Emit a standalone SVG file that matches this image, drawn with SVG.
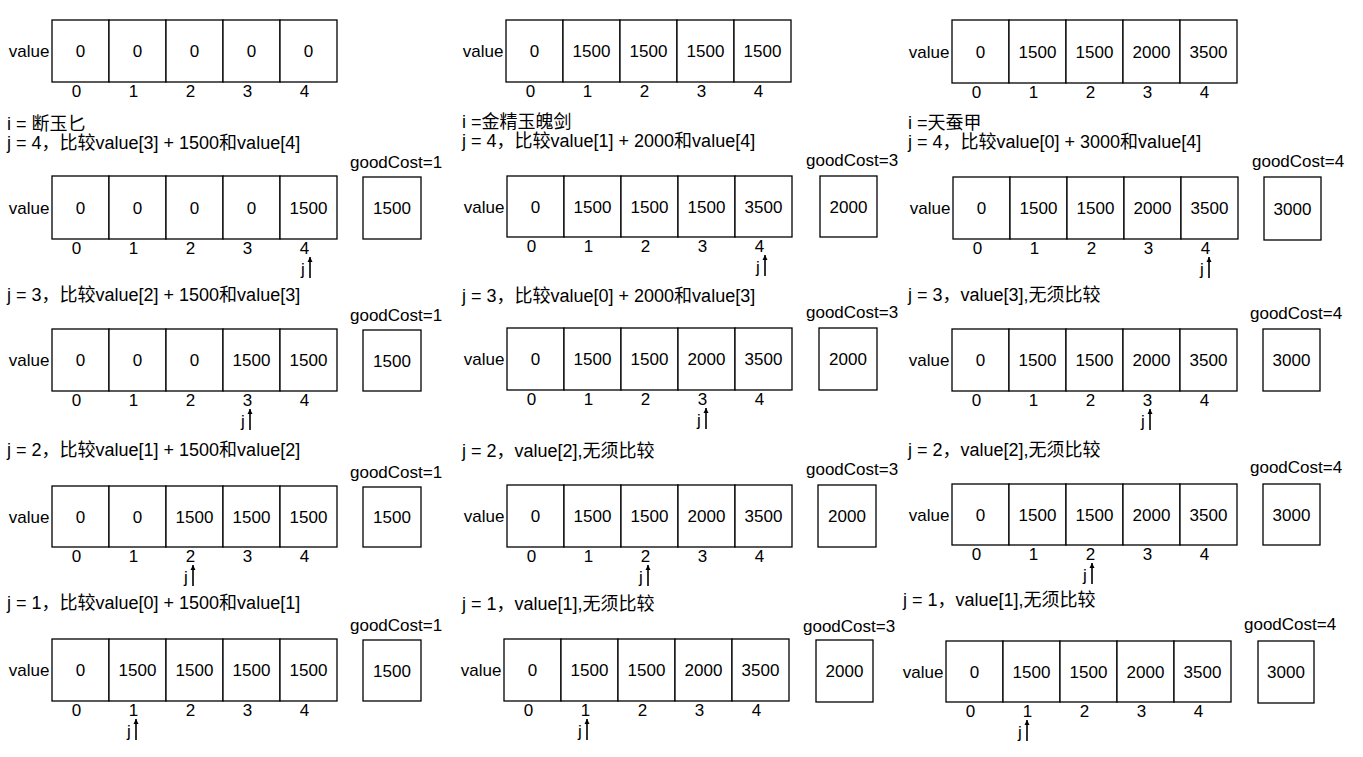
<svg xmlns="http://www.w3.org/2000/svg" width="1363" height="757" viewBox="0 0 1363 757">
<style>
.c{fill:#fff;stroke:#000;stroke-width:1.3}
.t{font-family:"Liberation Sans","Noto Sans CJK SC",sans-serif;font-size:17px;fill:#000}
.m{text-anchor:middle}
.e{text-anchor:end}
.k{font-size:18px}
.a{stroke:#000;stroke-width:1.6;fill:none}
</style>
<defs>
<marker id="ah" viewBox="0 0 10 10" refX="10" refY="5" markerUnits="userSpaceOnUse" markerWidth="5" markerHeight="7" orient="auto"><path d="M0,0 L10,5 L0,10 z" fill="#000"/></marker>
</defs>
<rect width="1363" height="757" fill="#fff"/>

<!-- Column 1 -->
<g id="c1r0">
<text class="t e" x="49.5" y="57">value</text>
<rect class="c" x="52" y="20" width="57" height="62"/><rect class="c" x="109" y="20" width="57" height="62"/><rect class="c" x="166" y="20" width="57" height="62"/><rect class="c" x="223" y="20" width="57" height="62"/><rect class="c" x="280" y="20" width="57" height="62"/>
<text class="t m" x="80.5" y="57">0</text><text class="t m" x="137.5" y="57">0</text><text class="t m" x="194.5" y="57">0</text><text class="t m" x="251.5" y="57">0</text><text class="t m" x="308.5" y="57">0</text>
<text class="t m" x="76.5" y="97">0</text><text class="t m" x="133.5" y="97">1</text><text class="t m" x="190.5" y="97">2</text><text class="t m" x="247.5" y="97">3</text><text class="t m" x="304.5" y="97">4</text>
</g>
<g id="c1r1">
<text class="t k" x="7" y="130">i = 断玉匕</text>
<text class="t k" x="7" y="149">j = 4，比较value[3] + 1500和value[4]</text>
<text class="t" x="350" y="168">goodCost=1</text>
<text class="t e" x="49.5" y="213.5">value</text>
<rect class="c" x="52" y="176" width="57" height="63"/><rect class="c" x="109" y="176" width="57" height="63"/><rect class="c" x="166" y="176" width="57" height="63"/><rect class="c" x="223" y="176" width="57" height="63"/><rect class="c" x="280" y="176" width="57" height="63"/>
<text class="t m" x="80.5" y="213.5">0</text><text class="t m" x="137.5" y="213.5">0</text><text class="t m" x="194.5" y="213.5">0</text><text class="t m" x="251.5" y="213.5">0</text><text class="t m" x="308.5" y="213.5">1500</text>
<text class="t m" x="76.5" y="254">0</text><text class="t m" x="133.5" y="254">1</text><text class="t m" x="190.5" y="254">2</text><text class="t m" x="247.5" y="254">3</text><text class="t m" x="304.5" y="254">4</text>
<rect class="c" x="363" y="177" width="58" height="62"/><text class="t m" x="392" y="214">1500</text>
</g>
<g id="c1r2">
<text class="t k" x="7" y="301">j = 3，比较value[2] + 1500和value[3]</text>
<text class="t" x="350" y="321">goodCost=1</text>
<text class="t e" x="49.5" y="366">value</text>
<rect class="c" x="52" y="329" width="57" height="62"/><rect class="c" x="109" y="329" width="57" height="62"/><rect class="c" x="166" y="329" width="57" height="62"/><rect class="c" x="223" y="329" width="57" height="62"/><rect class="c" x="280" y="329" width="57" height="62"/>
<text class="t m" x="80.5" y="366">0</text><text class="t m" x="137.5" y="366">0</text><text class="t m" x="194.5" y="366">0</text><text class="t m" x="251.5" y="366">1500</text><text class="t m" x="308.5" y="366">1500</text>
<text class="t m" x="76.5" y="406">0</text><text class="t m" x="133.5" y="406">1</text><text class="t m" x="190.5" y="406">2</text><text class="t m" x="247.5" y="406">3</text><text class="t m" x="304.5" y="406">4</text>
<rect class="c" x="363" y="330" width="58" height="61"/><text class="t m" x="392" y="366.5">1500</text>
</g>
<g id="c1r3">
<text class="t k" x="7" y="456">j = 2，比较value[1] + 1500和value[2]</text>
<text class="t" x="350" y="478">goodCost=1</text>
<text class="t e" x="49.5" y="522.5">value</text>
<rect class="c" x="52" y="486" width="57" height="61"/><rect class="c" x="109" y="486" width="57" height="61"/><rect class="c" x="166" y="486" width="57" height="61"/><rect class="c" x="223" y="486" width="57" height="61"/><rect class="c" x="280" y="486" width="57" height="61"/>
<text class="t m" x="80.5" y="522.5">0</text><text class="t m" x="137.5" y="522.5">0</text><text class="t m" x="194.5" y="522.5">1500</text><text class="t m" x="251.5" y="522.5">1500</text><text class="t m" x="308.5" y="522.5">1500</text>
<text class="t m" x="76.5" y="562">0</text><text class="t m" x="133.5" y="562">1</text><text class="t m" x="190.5" y="562">2</text><text class="t m" x="247.5" y="562">3</text><text class="t m" x="304.5" y="562">4</text>
<rect class="c" x="363" y="487" width="58" height="60"/><text class="t m" x="392" y="523">1500</text>
</g>
<g id="c1r4">
<text class="t k" x="7" y="609">j = 1，比较value[0] + 1500和value[1]</text>
<text class="t" x="350" y="631">goodCost=1</text>
<text class="t e" x="49.5" y="676">value</text>
<rect class="c" x="52" y="639" width="57" height="62"/><rect class="c" x="109" y="639" width="57" height="62"/><rect class="c" x="166" y="639" width="57" height="62"/><rect class="c" x="223" y="639" width="57" height="62"/><rect class="c" x="280" y="639" width="57" height="62"/>
<text class="t m" x="80.5" y="676">0</text><text class="t m" x="137.5" y="676">1500</text><text class="t m" x="194.5" y="676">1500</text><text class="t m" x="251.5" y="676">1500</text><text class="t m" x="308.5" y="676">1500</text>
<text class="t m" x="76.5" y="716">0</text><text class="t m" x="133.5" y="716">1</text><text class="t m" x="190.5" y="716">2</text><text class="t m" x="247.5" y="716">3</text><text class="t m" x="304.5" y="716">4</text>
<rect class="c" x="363" y="640" width="58" height="61"/><text class="t m" x="392" y="676.5">1500</text>
</g>

<!-- Column 2 -->
<g id="c2r0">
<text class="t e" x="503.5" y="57">value</text>
<rect class="c" x="506" y="20" width="57" height="62"/><rect class="c" x="563" y="20" width="57" height="62"/><rect class="c" x="620" y="20" width="57" height="62"/><rect class="c" x="677" y="20" width="57" height="62"/><rect class="c" x="734" y="20" width="57" height="62"/>
<text class="t m" x="534.5" y="57">0</text><text class="t m" x="591.5" y="57">1500</text><text class="t m" x="648.5" y="57">1500</text><text class="t m" x="705.5" y="57">1500</text><text class="t m" x="762.5" y="57">1500</text>
<text class="t m" x="530.5" y="97">0</text><text class="t m" x="587.5" y="97">1</text><text class="t m" x="644.5" y="97">2</text><text class="t m" x="701.5" y="97">3</text><text class="t m" x="758.5" y="97">4</text>
</g>
<g id="c2r1">
<text class="t k" x="462" y="128">i =金精玉魄剑</text>
<text class="t k" x="462" y="147">j = 4，比较value[1] + 2000和value[4]</text>
<text class="t" x="806" y="166">goodCost=3</text>
<text class="t e" x="504.5" y="212.5">value</text>
<rect class="c" x="507" y="176" width="57" height="61"/><rect class="c" x="564" y="176" width="57" height="61"/><rect class="c" x="621" y="176" width="57" height="61"/><rect class="c" x="678" y="176" width="57" height="61"/><rect class="c" x="735" y="176" width="57" height="61"/>
<text class="t m" x="535.5" y="212.5">0</text><text class="t m" x="592.5" y="212.5">1500</text><text class="t m" x="649.5" y="212.5">1500</text><text class="t m" x="706.5" y="212.5">1500</text><text class="t m" x="763.5" y="212.5">3500</text>
<text class="t m" x="531.5" y="252">0</text><text class="t m" x="588.5" y="252">1</text><text class="t m" x="645.5" y="252">2</text><text class="t m" x="702.5" y="252">3</text><text class="t m" x="759.5" y="252">4</text>
<rect class="c" x="820" y="176" width="57" height="61"/><text class="t m" x="848.5" y="212.5">2000</text>
</g>
<g id="c2r2">
<text class="t k" x="462" y="302">j = 3，比较value[0] + 2000和value[3]</text>
<text class="t" x="806" y="318">goodCost=3</text>
<text class="t e" x="504.5" y="365">value</text>
<rect class="c" x="507" y="328" width="57" height="62"/><rect class="c" x="564" y="328" width="57" height="62"/><rect class="c" x="621" y="328" width="57" height="62"/><rect class="c" x="678" y="328" width="57" height="62"/><rect class="c" x="735" y="328" width="57" height="62"/>
<text class="t m" x="535.5" y="365">0</text><text class="t m" x="592.5" y="365">1500</text><text class="t m" x="649.5" y="365">1500</text><text class="t m" x="706.5" y="365">2000</text><text class="t m" x="763.5" y="365">3500</text>
<text class="t m" x="531.5" y="405">0</text><text class="t m" x="588.5" y="405">1</text><text class="t m" x="645.5" y="405">2</text><text class="t m" x="702.5" y="405">3</text><text class="t m" x="759.5" y="405">4</text>
<rect class="c" x="819" y="328" width="58" height="62"/><text class="t m" x="848" y="365">2000</text>
</g>
<g id="c2r3">
<text class="t k" x="462" y="457">j = 2，value[2],无须比较</text>
<text class="t" x="806" y="475">goodCost=3</text>
<text class="t e" x="504.5" y="522">value</text>
<rect class="c" x="507" y="485" width="57" height="62"/><rect class="c" x="564" y="485" width="57" height="62"/><rect class="c" x="621" y="485" width="57" height="62"/><rect class="c" x="678" y="485" width="57" height="62"/><rect class="c" x="735" y="485" width="57" height="62"/>
<text class="t m" x="535.5" y="522">0</text><text class="t m" x="592.5" y="522">1500</text><text class="t m" x="649.5" y="522">1500</text><text class="t m" x="706.5" y="522">2000</text><text class="t m" x="763.5" y="522">3500</text>
<text class="t m" x="531.5" y="562">0</text><text class="t m" x="588.5" y="562">1</text><text class="t m" x="645.5" y="562">2</text><text class="t m" x="702.5" y="562">3</text><text class="t m" x="759.5" y="562">4</text>
<rect class="c" x="818" y="485" width="58" height="62"/><text class="t m" x="847" y="522">2000</text>
</g>
<g id="c2r4">
<text class="t k" x="462" y="610">j = 1，value[1],无须比较</text>
<text class="t" x="803" y="632">goodCost=3</text>
<text class="t e" x="501.5" y="676">value</text>
<rect class="c" x="504" y="639" width="57" height="62"/><rect class="c" x="561" y="639" width="57" height="62"/><rect class="c" x="618" y="639" width="57" height="62"/><rect class="c" x="675" y="639" width="57" height="62"/><rect class="c" x="732" y="639" width="57" height="62"/>
<text class="t m" x="532.5" y="676">0</text><text class="t m" x="589.5" y="676">1500</text><text class="t m" x="646.5" y="676">1500</text><text class="t m" x="703.5" y="676">2000</text><text class="t m" x="760.5" y="676">3500</text>
<text class="t m" x="528.5" y="716">0</text><text class="t m" x="585.5" y="716">1</text><text class="t m" x="642.5" y="716">2</text><text class="t m" x="699.5" y="716">3</text><text class="t m" x="756.5" y="716">4</text>
<rect class="c" x="816" y="640" width="57" height="62"/><text class="t m" x="844.5" y="677">2000</text>
</g>

<!-- Column 3 -->
<g id="c3r0">
<text class="t e" x="949.5" y="57.5">value</text>
<rect class="c" x="952" y="20" width="57" height="63"/><rect class="c" x="1009" y="20" width="57" height="63"/><rect class="c" x="1066" y="20" width="57" height="63"/><rect class="c" x="1123" y="20" width="57" height="63"/><rect class="c" x="1180" y="20" width="57" height="63"/>
<text class="t m" x="980.5" y="57.5">0</text><text class="t m" x="1037.5" y="57.5">1500</text><text class="t m" x="1094.5" y="57.5">1500</text><text class="t m" x="1151.5" y="57.5">2000</text><text class="t m" x="1208.5" y="57.5">3500</text>
<text class="t m" x="976.5" y="98">0</text><text class="t m" x="1033.5" y="98">1</text><text class="t m" x="1090.5" y="98">2</text><text class="t m" x="1147.5" y="98">3</text><text class="t m" x="1204.5" y="98">4</text>
</g>
<g id="c3r1">
<text class="t k" x="908" y="129">i =天蚕甲</text>
<text class="t k" x="908" y="148">j = 4，比较value[0] + 3000和value[4]</text>
<text class="t" x="1252" y="167">goodCost=4</text>
<text class="t e" x="950.5" y="214">value</text>
<rect class="c" x="953" y="177" width="57" height="62"/><rect class="c" x="1010" y="177" width="57" height="62"/><rect class="c" x="1067" y="177" width="57" height="62"/><rect class="c" x="1124" y="177" width="57" height="62"/><rect class="c" x="1181" y="177" width="57" height="62"/>
<text class="t m" x="981.5" y="214">0</text><text class="t m" x="1038.5" y="214">1500</text><text class="t m" x="1095.5" y="214">1500</text><text class="t m" x="1152.5" y="214">2000</text><text class="t m" x="1209.5" y="214">3500</text>
<text class="t m" x="977.5" y="254">0</text><text class="t m" x="1034.5" y="254">1</text><text class="t m" x="1091.5" y="254">2</text><text class="t m" x="1148.5" y="254">3</text><text class="t m" x="1205.5" y="254">4</text>
<rect class="c" x="1264" y="177" width="57" height="63"/><text class="t m" x="1292.5" y="214.5">3000</text>
</g>
<g id="c3r2">
<text class="t k" x="908" y="301">j = 3，value[3],无须比较</text>
<text class="t" x="1250" y="319">goodCost=4</text>
<text class="t e" x="949.5" y="366">value</text>
<rect class="c" x="952" y="329" width="57" height="62"/><rect class="c" x="1009" y="329" width="57" height="62"/><rect class="c" x="1066" y="329" width="57" height="62"/><rect class="c" x="1123" y="329" width="57" height="62"/><rect class="c" x="1180" y="329" width="57" height="62"/>
<text class="t m" x="980.5" y="366">0</text><text class="t m" x="1037.5" y="366">1500</text><text class="t m" x="1094.5" y="366">1500</text><text class="t m" x="1151.5" y="366">2000</text><text class="t m" x="1208.5" y="366">3500</text>
<text class="t m" x="976.5" y="406">0</text><text class="t m" x="1033.5" y="406">1</text><text class="t m" x="1090.5" y="406">2</text><text class="t m" x="1147.5" y="406">3</text><text class="t m" x="1204.5" y="406">4</text>
<rect class="c" x="1263" y="329" width="57" height="62"/><text class="t m" x="1291.5" y="366">3000</text>
</g>
<g id="c3r3">
<text class="t k" x="908" y="456">j = 2，value[2],无须比较</text>
<text class="t" x="1250" y="473">goodCost=4</text>
<text class="t e" x="949.5" y="520.5">value</text>
<rect class="c" x="952" y="484" width="57" height="61"/><rect class="c" x="1009" y="484" width="57" height="61"/><rect class="c" x="1066" y="484" width="57" height="61"/><rect class="c" x="1123" y="484" width="57" height="61"/><rect class="c" x="1180" y="484" width="57" height="61"/>
<text class="t m" x="980.5" y="520.5">0</text><text class="t m" x="1037.5" y="520.5">1500</text><text class="t m" x="1094.5" y="520.5">1500</text><text class="t m" x="1151.5" y="520.5">2000</text><text class="t m" x="1208.5" y="520.5">3500</text>
<text class="t m" x="976.5" y="560">0</text><text class="t m" x="1033.5" y="560">1</text><text class="t m" x="1090.5" y="560">2</text><text class="t m" x="1147.5" y="560">3</text><text class="t m" x="1204.5" y="560">4</text>
<rect class="c" x="1263" y="484" width="57" height="61"/><text class="t m" x="1291.5" y="520.5">3000</text>
</g>
<g id="c3r4">
<text class="t k" x="903" y="606">j = 1，value[1],无须比较</text>
<text class="t" x="1244" y="630">goodCost=4</text>
<text class="t e" x="943.5" y="677.5">value</text>
<rect class="c" x="946" y="641" width="57" height="61"/><rect class="c" x="1003" y="641" width="57" height="61"/><rect class="c" x="1060" y="641" width="57" height="61"/><rect class="c" x="1117" y="641" width="57" height="61"/><rect class="c" x="1174" y="641" width="57" height="61"/>
<text class="t m" x="974.5" y="677.5">0</text><text class="t m" x="1031.5" y="677.5">1500</text><text class="t m" x="1088.5" y="677.5">1500</text><text class="t m" x="1145.5" y="677.5">2000</text><text class="t m" x="1202.5" y="677.5">3500</text>
<text class="t m" x="970.5" y="717">0</text><text class="t m" x="1027.5" y="717">1</text><text class="t m" x="1084.5" y="717">2</text><text class="t m" x="1141.5" y="717">3</text><text class="t m" x="1198.5" y="717">4</text>
<rect class="c" x="1258" y="641" width="56" height="62"/><text class="t m" x="1286" y="678">3000</text>
</g>

<!-- j pointers -->
<g id="connectors">
<line class="a" x1="310" y1="278" x2="310" y2="257" marker-end="url(#ah)"/><text class="t m" x="303" y="275">j</text>
<line class="a" x1="250" y1="430" x2="250" y2="409" marker-end="url(#ah)"/><text class="t m" x="243" y="427">j</text>
<line class="a" x1="193" y1="586" x2="193" y2="565" marker-end="url(#ah)"/><text class="t m" x="186" y="583">j</text>
<line class="a" x1="136" y1="740" x2="136" y2="719" marker-end="url(#ah)"/><text class="t m" x="129" y="737">j</text>
<line class="a" x1="765" y1="276" x2="765" y2="255" marker-end="url(#ah)"/><text class="t m" x="758" y="273">j</text>
<line class="a" x1="706" y1="429" x2="706" y2="408" marker-end="url(#ah)"/><text class="t m" x="699" y="426">j</text>
<line class="a" x1="648" y1="586" x2="648" y2="565" marker-end="url(#ah)"/><text class="t m" x="641" y="583">j</text>
<line class="a" x1="587" y1="740" x2="587" y2="719" marker-end="url(#ah)"/><text class="t m" x="580" y="737">j</text>
<line class="a" x1="1209" y1="278" x2="1209" y2="257" marker-end="url(#ah)"/><text class="t m" x="1202" y="275">j</text>
<line class="a" x1="1150" y1="430" x2="1150" y2="409" marker-end="url(#ah)"/><text class="t m" x="1143" y="427">j</text>
<line class="a" x1="1092" y1="584" x2="1092" y2="563" marker-end="url(#ah)"/><text class="t m" x="1085" y="581">j</text>
<line class="a" x1="1027" y1="741" x2="1027" y2="720" marker-end="url(#ah)"/><text class="t m" x="1020" y="738">j</text>
</g>
</svg>
